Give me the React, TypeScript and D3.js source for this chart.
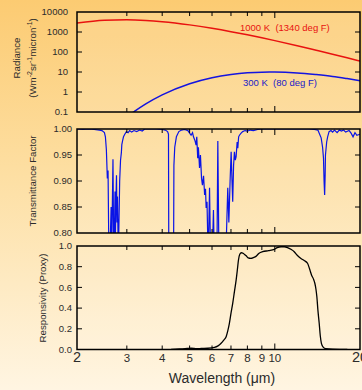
import * as d3 from 'd3';

// wavelength (um) samples and values
const radWl = [2, 2.5, 3, 3.5, 4, 5, 6, 7, 8, 9, 10, 12, 14, 16, 18, 20];
const rad1000 = [2800, 3880, 4080, 3780, 3280, 2270, 1530, 1040, 720, 510, 370, 207, 123, 78, 51.5, 35.3];
const rad300Wl = [3.1, 3.2, 3.5, 4, 5, 6, 7, 8, 9, 10, 12, 14, 16, 18, 20];
const rad300 = [0.08, 0.11, 0.255, 0.72, 2.6, 5.2, 7.5, 9.1, 9.8, 9.9, 9.0, 7.4, 6.0, 4.7, 3.7];

const transWl = [
  2.0, 2.1, 2.2, 2.3, 2.4, 2.45, 2.5, 2.52, 2.54, 2.56, 2.575, 2.59, 2.62, 2.64, 2.655, 2.68, 2.695, 2.71,
  2.725, 2.735, 2.745, 2.758, 2.77, 2.78, 2.795, 2.81, 2.83, 2.85, 2.87, 2.88, 2.9, 2.92, 2.95, 2.99, 3.03,
  3.07, 3.12, 3.18, 3.25, 3.33, 3.4, 3.47, 3.6, 3.8, 4.0, 4.1, 4.18, 4.21, 4.22, 4.39, 4.4, 4.43, 4.49, 4.58,
  4.68, 4.8, 4.93, 5.0, 5.06, 5.12, 5.16, 5.22, 5.27, 5.3, 5.34, 5.37, 5.42, 5.46, 5.51, 5.55, 5.6, 5.65,
  5.69, 5.72, 5.76, 5.8, 5.84, 5.88, 5.92, 5.98, 6.03, 6.07, 6.1, 6.2, 6.25, 6.29, 6.34, 6.45, 6.6, 6.75,
  6.82, 6.88, 6.95, 7.01, 7.06, 7.1, 7.15, 7.2, 7.25, 7.3, 7.36, 7.4, 7.45, 7.5, 7.6, 7.7, 7.85, 8.0, 8.2,
  8.4, 8.7, 9.0, 10.0, 12.0, 13.2, 13.8, 14.2, 14.4, 14.58, 14.75, 14.86, 14.93, 15.0, 15.06, 15.1, 15.25,
  15.37, 15.55, 15.8, 16.0, 16.25, 16.6, 16.9, 17.2, 17.5, 17.8, 18.3, 18.6, 18.9, 19.2, 19.5, 20.0
];
const trans = [
  1.0, 0.999, 1.0, 0.999, 0.998, 0.997, 0.993, 0.985, 0.96, 0.905, 0.92, 0.78, 0.78, 0.85, 0.78, 0.942, 0.78, 0.78,
  0.88, 0.8, 0.86, 0.911, 0.82, 0.87, 0.78, 0.8, 0.9, 0.94, 0.955, 0.97, 0.978, 0.985, 0.99, 0.995, 0.993,
  0.997, 0.994, 0.997, 0.995, 0.998, 0.996, 1.0, 1.0, 1.0, 0.999, 0.998, 0.995, 0.99, 0.78, 0.78, 0.93, 0.965, 0.985, 0.995,
  0.998, 0.999, 0.997, 0.992, 0.988, 0.993, 0.985, 0.978, 0.969, 0.985, 0.944, 0.965, 0.925, 0.95, 0.905, 0.892, 0.91, 0.873,
  0.885, 0.848, 0.86, 0.78, 0.8, 0.887, 0.78, 0.8, 0.78, 0.844, 0.78, 0.78, 0.78, 0.977, 0.78, 0.78, 0.78, 0.8,
  0.887, 0.82, 0.9, 0.956, 0.9, 0.86, 0.93, 0.956, 0.94, 0.947, 0.975, 0.963, 0.985, 0.988, 0.992, 0.995, 0.997, 0.996, 0.998,
  0.997, 0.999, 1.0, 1.0, 1.0, 1.0, 0.999, 0.998, 0.99, 0.983, 0.965, 0.944, 0.9, 0.873, 0.91, 0.95, 0.975,
  0.985, 0.995, 0.997, 0.994, 0.998, 0.993, 0.998, 0.996, 0.998, 0.994, 0.997, 0.992, 0.985, 0.993, 0.988, 0.99
];

const respWl = [
  4.3, 4.6, 4.9, 5.06, 5.3, 5.5, 5.8, 6.12, 6.3, 6.46, 6.6, 6.73, 6.82, 6.91, 7.0, 7.1, 7.2, 7.3, 7.38, 7.44,
  7.52, 7.62, 7.72, 7.82, 7.92, 8.05, 8.24, 8.4, 8.58, 8.8, 9.06, 9.5, 9.96, 10.2, 10.52, 10.8, 11.09, 11.4,
  11.71, 12.0, 12.37, 12.7, 13.05, 13.3, 13.48, 13.7, 13.85, 13.98, 14.08, 14.2, 14.35, 14.48, 14.61, 14.85,
  15.13, 16.0, 17.0, 18.04
];
const resp = [
  0.0, 0.005, 0.01, 0.012, 0.008, 0.01, 0.012, 0.02, 0.035, 0.06, 0.09, 0.124, 0.18, 0.253, 0.35, 0.446, 0.56, 0.67, 0.78, 0.865,
  0.92, 0.935, 0.93, 0.918, 0.905, 0.885, 0.88, 0.888, 0.9, 0.93, 0.945, 0.955, 0.968, 0.985, 0.993, 0.993, 0.985, 0.968,
  0.945, 0.91, 0.88, 0.86, 0.833, 0.77, 0.72, 0.68, 0.64, 0.58, 0.51, 0.38, 0.253, 0.13, 0.06, 0.02,
  0.008, 0.003, 0.002, 0.002
];

const xTicks = [2, 3, 4, 5, 6, 7, 8, 9, 10, 20];
const xTickLabels = ['2', '3', '4', '5', '6', '7', '8', '9', '10', '20'];
const radTicks = [0.1, 1, 10, 100, 1000, 10000];
const radTickLabels = ['0.1', '1', '10', '100', '1000', '10000'];
const transTicks = [0.8, 0.85, 0.9, 0.95, 1.0];
const transTickLabels = ['0.80', '0.85', '0.90', '0.95', '1.00'];
const respTicks = [0, 0.2, 0.4, 0.6, 0.8, 1.0];
const respTickLabels = ['0.0', '0.2', '0.4', '0.6', '0.8', '1.0'];

const FONT = "'Liberation Sans', Arial, sans-serif";
const TXT = '#2b2b2b';
const X0 = 77;
const X1 = 360;
const NB = '\u00a0';

type Panel = { id: string; top: number; bottom: number; y: (v: number) => number; ticks: number[]; labels: string[]; labelX: number };

function Frame({ p }: { p: Panel }) {
  const x = d3.scaleLog().domain([2, 20]).range([X0, X1]);
  return (
    <g>
      {xTicks.slice(1, -1).map((t) => {
        const len = t === 10 ? 6 : 4;
        return (
          <g key={t}>
            <line x1={x(t)} x2={x(t)} y1={p.top} y2={p.top + len} stroke="#000" strokeWidth={1} />
            <line x1={x(t)} x2={x(t)} y1={p.bottom} y2={p.bottom - len} stroke="#000" strokeWidth={1} />
          </g>
        );
      })}
      {p.ticks.map((t, i) => (
        <g key={t}>
          {i > 0 && i < p.ticks.length - 1 && (
            <>
              <line x1={X0} x2={X0 + 5} y1={p.y(t)} y2={p.y(t)} stroke="#000" strokeWidth={1} />
              <line x1={X1} x2={X1 - 5} y1={p.y(t)} y2={p.y(t)} stroke="#000" strokeWidth={1} />
            </>
          )}
          <text x={p.labelX} y={p.y(t)} dy="0.35em" textAnchor="end" fontSize={9.5} fill={TXT} fontFamily={FONT}>
            {p.labels[i]}
          </text>
        </g>
      ))}
      <rect x={X0} y={p.top} width={X1 - X0} height={p.bottom - p.top} fill="none" stroke="#000" strokeWidth={1.5} />
    </g>
  );
}

export default function App() {
  const x = d3.scaleLog().domain([2, 20]).range([X0, X1]);
  const yRad = d3.scaleLog().domain([0.1, 10000]).range([112, 12]);
  const yTrans = d3.scaleLinear().domain([0.8, 1.0]).range([233, 129]);
  const yResp = d3.scaleLinear().domain([0, 1]).range([349.5, 246]);

  const panels: Panel[] = [
    { id: 'rad', top: 12, bottom: 112, y: yRad, ticks: radTicks, labels: radTickLabels, labelX: 68 },
    { id: 'trans', top: 129, bottom: 233, y: yTrans, ticks: transTicks, labels: transTickLabels, labelX: 72 },
    { id: 'resp', top: 246, bottom: 349.5, y: yResp, ticks: respTicks, labels: respTickLabels, labelX: 72 }
  ];

  const radLine = d3
    .line<[number, number]>()
    .x((d) => x(d[0]))
    .y((d) => yRad(d[1]))
    .curve(d3.curveMonotoneX);
  const transLine = d3
    .line<[number, number]>()
    .x((d) => x(d[0]))
    .y((d) => yTrans(d[1]));
  const respLine = d3
    .line<[number, number]>()
    .x((d) => x(d[0]))
    .y((d) => yResp(d[1]))
    .curve(d3.curveMonotoneX);

  const red = radWl.map((w, i) => [w, rad1000[i]] as [number, number]);
  const blue = rad300Wl.map((w, i) => [w, rad300[i]] as [number, number]);
  const tr = transWl.map((w, i) => [w, trans[i]] as [number, number]);
  const rs = respWl.map((w, i) => [w, resp[i]] as [number, number]);

  return (
    <svg width={362} height={390} style={{ position: 'fixed', left: 0, top: 0 }} fontFamily={FONT}>
      <defs>
        <linearGradient id="bg" x1="0" y1="0" x2="0" y2="1">
          <stop offset="0" stopColor="#FCCB72" />
          <stop offset="0.45" stopColor="#FDDFA3" />
          <stop offset="1" stopColor="#FFF5E2" />
        </linearGradient>
        {panels.map((p) => (
          <clipPath id={`clip-${p.id}`} key={p.id}>
            <rect x={X0} y={p.top} width={X1 - X0} height={p.bottom - p.top} />
          </clipPath>
        ))}
      </defs>
      <rect width={362} height={390} fill="url(#bg)" />
      {panels.map((p) => (
        <rect key={p.id} x={X0} y={p.top} width={X1 - X0} height={p.bottom - p.top} fill="#fff" fillOpacity={0.12} />
      ))}

      <g clipPath="url(#clip-rad)">
        <path d={radLine(red) ?? ''} fill="none" stroke="#E8120F" strokeWidth={1.5} />
        <path d={radLine(blue) ?? ''} fill="none" stroke="#1414E0" strokeWidth={1.5} />
      </g>
      <g clipPath="url(#clip-trans)">
        <path d={transLine(tr) ?? ''} fill="none" stroke="#0A14E6" strokeWidth={1.2} />
      </g>
      <g clipPath="url(#clip-resp)">
        <path d={respLine(rs) ?? ''} fill="none" stroke="#000" strokeWidth={1.3} />
      </g>

      {panels.map((p) => (
        <Frame key={p.id} p={p} />
      ))}

      <text x={240} y={30.5} fontSize={9.5} fill="#E8120F">{`1000 K${NB}${NB}(1340 deg F)`}</text>
      <text x={243} y={85.5} fontSize={9.5} fill="#1A1AC8">{`300 K${NB}${NB}(80 deg F)`}</text>

      {xTicks.map((t, i) => {
        const big = t === 2 || t === 20;
        return (
          <text key={t} x={x(t)} y={362} textAnchor="middle" fontSize={big ? 14.5 : 11.5} fill={TXT}>
            {xTickLabels[i]}
          </text>
        );
      })}
      <text x={222} y={383} textAnchor="middle" fontSize={14} fill={TXT}>
        Wavelength (μm)
      </text>

      <text transform="translate(20,58) rotate(-90)" textAnchor="middle" fontSize={9.7} fill={TXT}>
        Radiance
      </text>
      <text transform="translate(36,58) rotate(-90)" textAnchor="middle" fontSize={9.7} fill={TXT}>
        (Wm<tspan dy={-4} fontSize={7}>-2</tspan>
        <tspan dy={4}>sr</tspan>
        <tspan dy={-4} fontSize={7}>-1</tspan>
        <tspan dy={4}>micron</tspan>
        <tspan dy={-4} fontSize={7}>-1</tspan>
        <tspan dy={4}>)</tspan>
      </text>
      <text transform="translate(36,181) rotate(-90)" textAnchor="middle" fontSize={9.7} fill={TXT}>
        Transmittance Factor
      </text>
      <text transform="translate(46,298) rotate(-90)" textAnchor="middle" fontSize={9.7} fill={TXT}>
        Responsivity (Proxy)
      </text>
    </svg>
  );
}
